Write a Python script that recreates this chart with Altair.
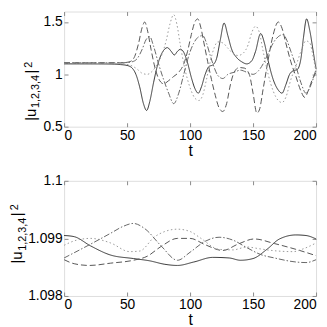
import altair as alt
import pandas as pd

# ---------------- top panel data ----------------
top_s1_t = [0, 30, 40, 45, 50, 54, 57, 60, 63, 65.5, 68, 71, 74, 78, 82, 85, 87.5, 90, 92.5, 95, 98, 101, 104, 106.5,
            109, 112, 115, 118, 121, 124, 127, 130, 133, 137, 141, 145, 149, 152, 156, 159, 162, 166, 170, 173, 176,
            179, 182, 185, 188, 190, 192.5, 195, 198, 200]
top_s1_v = [1.100, 1.099, 1.097, 1.093, 1.085, 1.06, 1.00, 0.88, 0.72, 0.655, 0.74, 0.92, 1.08, 1.21, 1.255, 1.22,
            1.185, 1.22, 1.24, 1.21, 1.11, 0.97, 0.86, 0.82, 0.88, 1.00, 1.075, 1.09, 1.15, 1.33, 1.49, 1.37, 1.24,
            1.16, 1.12, 1.10, 1.13, 1.22, 1.39, 1.30, 1.13, 0.95, 0.85, 0.82, 0.90, 1.00, 1.035, 1.045, 1.15, 1.35,
            1.53, 1.42, 1.20, 1.05]

top_s2_t = [0, 45, 50, 53, 56, 59, 62, 64, 66, 69, 72, 75, 79, 83, 87, 91, 95, 98, 101, 103.5, 106, 108.5, 111, 114,
            117, 120, 123, 126, 129, 132, 135, 139, 143, 147, 150, 153, 155, 158, 162, 166, 170, 173, 176, 180, 184,
            188, 191, 194, 197, 200]
top_s2_v = [1.11, 1.11, 1.115, 1.125, 1.17, 1.29, 1.45, 1.50, 1.43, 1.24, 1.07, 0.96, 0.91, 0.94, 0.98, 1.02, 1.10,
            1.22, 1.38, 1.49, 1.53, 1.45, 1.30, 1.12, 0.95, 0.80, 0.68, 0.645, 0.72, 0.90, 1.02, 1.065, 1.06, 1.00,
            0.82, 0.63, 0.66, 0.86, 1.14, 1.38, 1.50, 1.44, 1.30, 1.12, 0.98, 0.84, 0.78, 0.85, 0.95, 1.02]

top_s3_t = [0, 45, 50, 54, 58, 62, 66, 70, 74, 78, 81, 84, 87, 89.5, 92, 95, 98, 101, 104, 107, 110, 113, 116, 119,
            122, 126, 130, 134, 138, 142, 146, 149, 152, 155, 158, 162, 166, 170, 173, 176, 180, 184, 188, 192, 195,
            198, 200]
top_s3_v = [1.105, 1.103, 1.095, 1.08, 1.05, 1.01, 1.00, 1.03, 1.10, 1.20, 1.32, 1.48, 1.57, 1.48, 1.30, 1.10, 0.95,
            0.84, 0.77, 0.75, 0.80, 0.95, 1.12, 1.25, 1.31, 1.30, 1.25, 1.20, 1.18, 1.20, 1.28, 1.40, 1.46, 1.40,
            1.22, 1.00, 0.84, 0.75, 0.73, 0.78, 0.95, 1.08, 1.22, 1.32, 1.30, 1.15, 1.02]

top_s4_t = [0, 45, 50, 54, 58, 62, 65, 68, 71, 75, 79, 83, 87, 91, 95, 99, 103, 107, 110, 113, 116, 119, 122, 126,
            130, 135, 140, 145, 150, 154, 158, 162, 166, 170, 174, 177, 180, 184, 188, 192, 196, 200]
top_s4_v = [1.11, 1.11, 1.113, 1.12, 1.15, 1.24, 1.33, 1.36, 1.27, 1.10, 0.95, 0.82, 0.72, 0.82, 1.00, 1.18, 1.30,
            1.36, 1.37, 1.30, 1.18, 1.07, 0.99, 0.96, 1.00, 1.02, 1.04, 1.02, 1.00, 1.03, 1.10, 1.20, 1.30, 1.36,
            1.38, 1.32, 1.22, 1.08, 0.92, 0.82, 0.90, 1.05]

# ---------------- bottom panel data ----------------
bot_s1_t = [0, 8, 21, 37, 55, 68, 80, 90, 103, 118, 131, 140, 150, 161, 171, 184, 192, 200]
bot_s1_v = [1.09905, 1.09903, 1.09887, 1.09871, 1.09865, 1.09861, 1.09855, 1.09853, 1.09859, 1.09867, 1.09866,
            1.09862, 1.09865, 1.09881, 1.09899, 1.09906, 1.09905, 1.09899]

bot_s2_t = [0, 8, 20, 37, 55, 66, 77, 90, 100, 112, 126, 138, 151, 167, 184, 200]
bot_s2_v = [1.09863, 1.09856, 1.09853, 1.09857, 1.09862, 1.09869, 1.09886, 1.09900, 1.09900, 1.09889, 1.09879,
            1.09890, 1.09899, 1.09891, 1.09881, 1.09870]

bot_s3_t = [0, 10, 21, 37, 52, 60, 72, 90, 100, 108, 123, 134, 145, 155, 165, 182, 190, 200]
bot_s3_v = [1.09888, 1.09897, 1.09900, 1.09892, 1.09877, 1.09878, 1.09903, 1.09916, 1.09912, 1.09901, 1.09881,
            1.09880, 1.09885, 1.09882, 1.09879, 1.09877, 1.09882, 1.09892]

bot_s4_t = [0, 21, 37, 47, 55, 64, 77, 90, 100, 112, 123, 134, 145, 156, 167, 184, 192, 200]
bot_s4_v = [1.09866, 1.09890, 1.09909, 1.09921, 1.09926, 1.09917, 1.09887, 1.09862, 1.09876, 1.09895, 1.09902,
            1.09897, 1.09884, 1.09872, 1.09866, 1.09859, 1.09858, 1.09863]

series_names = ["u1", "u2", "u3", "u4"]
series_colors = ["#333333", "#555555", "#999999", "#666666"]
series_dashes = [[1, 0], [6, 3], [1.5, 2.5], [6, 2, 1.5, 2]]

x_ticks = [0, 50, 100, 150, 200]
top_y_ticks = [0.5, 1.0, 1.5]
bot_y_ticks = [1.098, 1.099, 1.1]

FONT = "Liberation Sans"
GRAY = "#8a8a8a"
W, H = 256, 117


def long_df(ts, vs):
    rows = []
    for name, t_list, v_list in zip(series_names, ts, vs):
        for t, v in zip(t_list, v_list):
            rows.append({"t": t, "v": v, "s": name})
    return pd.DataFrame(rows)


def panel(df, ydomain, yticks, yfmt, title_pieces):
    xscale = alt.Scale(domain=[0, 200], nice=False)
    yscale = alt.Scale(domain=ydomain, nice=False, zero=False)
    common = dict(domain=False, grid=False, tickColor=GRAY, tickWidth=1, tickSize=4, offset=-4)
    lines = alt.Chart(df).mark_line(strokeWidth=1, interpolate="monotone").encode(
        x=alt.X("t:Q", scale=xscale,
                axis=alt.Axis(orient="bottom", values=x_ticks, title="t", labelFont=FONT, labelFontSize=14,
                              labelColor="black", labelPadding=2, titleFont=FONT, titleFontSize=16,
                              titleFontWeight="normal", titleColor="black", titlePadding=0, **common)),
        y=alt.Y("v:Q", scale=yscale,
                axis=alt.Axis(orient="left", values=yticks, format=yfmt, title=None, labelFont=FONT,
                              labelFontSize=14, labelColor="black", labelPadding=2, **common)),
        color=alt.Color("s:N", scale=alt.Scale(domain=series_names, range=series_colors), legend=None),
        strokeDash=alt.StrokeDash("s:N", scale=alt.Scale(domain=series_names, range=series_dashes), legend=None),
    )
    mirror = alt.Chart(df).mark_line(opacity=0).encode(
        x=alt.X("t:Q", scale=xscale,
                axis=alt.Axis(orient="top", values=x_ticks, labels=False, title=None, **common)),
        y=alt.Y("v:Q", scale=yscale,
                axis=alt.Axis(orient="right", values=yticks, labels=False, title=None, **common)),
        detail="s:N",
    )
    layers = [lines, mirror]
    for txt, px, py, size in title_pieces:
        layers.append(
            alt.Chart(pd.DataFrame({"s": [txt]})).mark_text(
                angle=270, align="left", baseline="alphabetic", fontSize=size, font=FONT, color="black"
            ).encode(text="s:N", x=alt.value(px), y=alt.value(py))
        )
    return alt.layer(*layers).resolve_axis(x="independent", y="independent").properties(width=W, height=H)


top_df = long_df([top_s1_t, top_s2_t, top_s3_t, top_s4_t], [top_s1_v, top_s2_v, top_s3_v, top_s4_v])
bot_df = long_df([bot_s1_t, bot_s2_t, bot_s3_t, bot_s4_t], [bot_s1_v, bot_s2_v, bot_s3_v, bot_s4_v])

top_title = [("|u", -29, 111, 15), ("1,2,3,4", -25, 98, 11), ("|", -29, 63, 15), ("2", -33, 57, 11)]
bot_title = [("|u", -43, 84, 15), ("1,2,3,4", -39, 71, 11), ("|", -43, 36, 15), ("2", -47, 30, 11)]

top = panel(top_df, [0.5, 1.6], top_y_ticks, ".1~f", top_title)
bot = panel(bot_df, [1.098, 1.1], bot_y_ticks, ".4~f", bot_title)

chart = alt.vconcat(top, bot, spacing=14).properties(
    padding={"left": 0, "top": 0, "right": 0, "bottom": 0}
).configure_view(stroke=GRAY, strokeWidth=2).configure(background="white")

chart.save("out.html", embed_options={"renderer": "svg", "actions": False})
